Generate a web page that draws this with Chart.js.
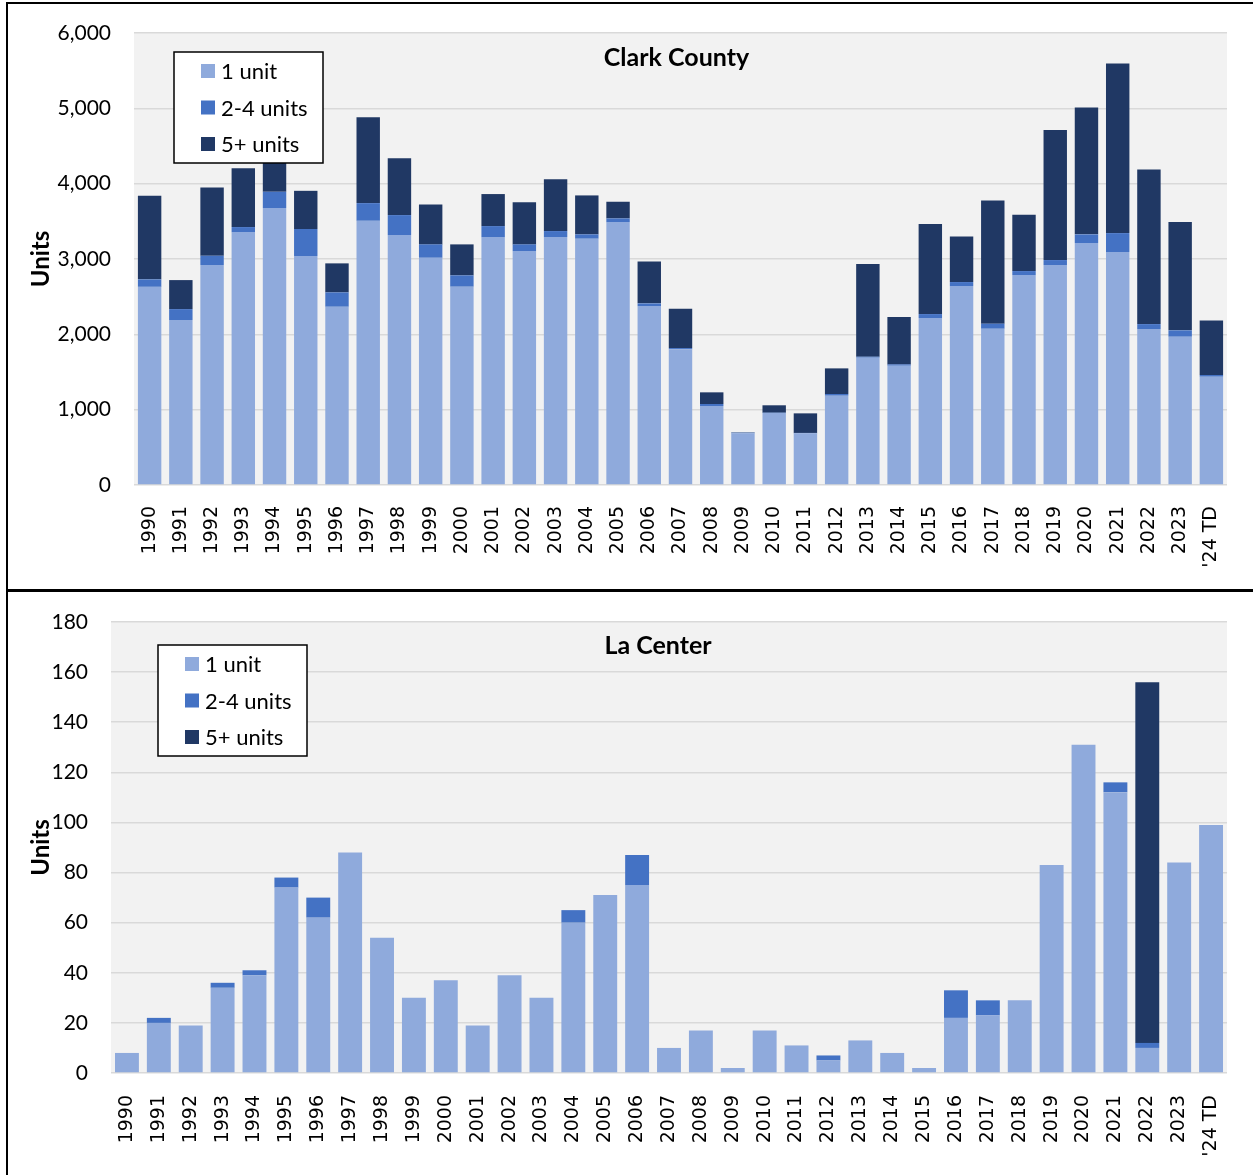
<!DOCTYPE html>
<html>
<head>
<meta charset="utf-8">
<script src="https://cdn.jsdelivr.net/npm/chart.js@4.4.1/dist/chart.umd.min.js"></script>
<style>
  body { margin: 0; background: #fff; }
  #page { position: relative; width: 1253px; height: 1175px; overflow: hidden; }
  canvas { position: absolute; left: 0; }
  .rule { position: absolute; background: #000; z-index: 2; }
</style>
</head>
<body>
<div id="page">
  <canvas id="chartClark" width="1253" height="590" style="top:0"></canvas>
  <canvas id="chartLaCenter" width="1253" height="585" style="top:590px"></canvas>
  <div class="rule" style="left:6px;top:2px;width:1247px;height:2px"></div>
  <div class="rule" style="left:6px;top:2px;width:2px;height:1173px"></div>
  <div class="rule" style="left:6px;top:589px;width:1247px;height:3px"></div>
</div>
<script>
// années
const years = ['1990','1991','1992','1993','1994','1995','1996','1997','1998','1999',
  '2000','2001','2002','2003','2004','2005','2006','2007','2008','2009',
  '2010','2011','2012','2013','2014','2015','2016','2017','2018','2019',
  '2020','2021','2022','2023',"'24 TD"];

// Clark County
const clarkOne  = [2630,2190,2920,3357,3676,3040,2366,3507,3318,3016,2632,3291,3105,3291,3269,3490,2375,1800,1048,686,955,686,1185,1690,1583,2216,2641,2074,2787,2920,3211,3092,2070,1968,1437];
const clarkTwoFour = [100,145,123,67,216,358,191,235,265,178,151,146,89,80,58,49,36,18,27,8,5,5,23,13,18,53,53,67,53,66,116,252,66,85,23];
const clarkFivePlus = [1110,385,907,779,560,507,385,1141,756,531,411,425,558,686,517,221,557,522,155,5,98,260,340,1230,628,1194,606,1637,747,1725,1685,2252,2053,1437,725];

// La Center
const lcOne  = [8,20,19,34,39,74,62,88,54,30,37,19,39,30,60,71,75,10,17,2,17,11,5,13,8,2,22,23,29,83,131,112,10,84,99];
const lcTwoFour = [0,2,0,2,2,4,8,0,0,0,0,0,0,0,5,0,12,0,0,0,0,0,2,0,0,0,11,6,0,0,0,4,2,0,0];
const lcFivePlus = [0,0,0,0,0,0,0,0,0,0,0,0,0,0,0,0,0,0,0,0,0,0,0,0,0,0,0,0,0,0,0,0,144,0,0];

const seriesNames = ['1 unit', '2-4 units', '5+ units'];
const seriesColors = ['#8faadc', '#4472c4', '#203864'];

Chart.defaults.font.family = 'Lato, "Open Sans", sans-serif';
Chart.defaults.color = '#000';
Chart.defaults.animation = false;

// fond gris de la zone de tracé
const plotBg = {
  id: 'plotBg',
  beforeDraw(chart) {
    const { ctx, chartArea: a } = chart;
    ctx.save();
    ctx.fillStyle = '#f2f2f2';
    ctx.fillRect(a.left, a.top, a.right - a.left, a.bottom - a.top);
    ctx.restore();
  }
};

// titre et légende dessinés dans la zone de tracé
const insideBox = {
  id: 'insideBox',
  afterDatasetsDraw(chart, args, o) {
    const { ctx, chartArea: a } = chart;
    ctx.save();
    ctx.fillStyle = '#000';
    ctx.font = 'bold 25px Lato';
    ctx.textAlign = 'center';
    ctx.textBaseline = 'middle';
    ctx.fillText(o.title, (a.left + a.right) / 2 + o.titleDx, a.top + o.titleDy);

    const x0 = a.left + o.legendDx, y0 = a.top + o.legendDy;
    ctx.fillStyle = '#fff';
    ctx.fillRect(x0, y0, 149, 111);
    ctx.strokeStyle = '#000';
    ctx.lineWidth = 1.5;
    ctx.strokeRect(x0, y0, 149, 111);
    ctx.font = '22px Lato';
    ctx.textAlign = 'left';
    chart.data.datasets.forEach(function (ds, i) {
      const cy = y0 + 19 + i * 36.5;
      ctx.fillStyle = ds.backgroundColor;
      ctx.fillRect(x0 + 27, cy - 7, 14, 14);
      ctx.fillStyle = '#000';
      ctx.fillText(ds.label, x0 + 47, cy + 1);
    });
    ctx.restore();
  }
};

function makeChart(id, data1, data24, data5, yMax, yStep, geo) {
  const ctx = document.getElementById(id);
  return new Chart(ctx, {
    type: 'bar',
    data: {
      labels: years,
      datasets: [data1, data24, data5].map(function (d, i) {
        return {
          label: seriesNames[i],
          data: d,
          backgroundColor: seriesColors[i],
          categoryPercentage: 1,
          barPercentage: 0.75
        };
      })
    },
    options: {
      responsive: false,
      layout: { padding: { top: 0, right: 26, bottom: 0, left: 0 } },
      plugins: {
        legend: { display: false },
        tooltip: { enabled: false },
        insideBox: geo.box
      },
      scales: {
        x: {
          stacked: true,
          grid: { display: false },
          border: { display: false },
          ticks: {
            autoSkip: false, minRotation: 90, maxRotation: 90, padding: geo.xPad,
            font: { family: '"DejaVu Sans"', size: 19 }
          },
          afterFit: function (s) { s.height = geo.xHeight; }
        },
        y: {
          stacked: true,
          min: 0, max: yMax,
          grid: { color: '#d9d9d9', lineWidth: 1.5, drawTicks: false },
          border: { display: false },
          ticks: { stepSize: yStep, padding: 23, font: { size: 21 } },
          title: { display: true, text: 'Units', font: { size: 24, weight: 'bold' }, padding: { top: 27, bottom: 0 } },
          afterFit: function (s) {
            s.width = geo.yWidth;
            s.paddingTop = geo.top;
            s.paddingBottom = 0;
          }
        }
      }
    },
    plugins: [plotBg, insideBox]
  });
}

makeChart('chartClark', clarkOne, clarkTwoFour, clarkFivePlus, 6000, 1000, {
  top: 33, xHeight: 105, yWidth: 134, xPad: 13,
  box: { title: 'Clark County', titleDx: -4, titleDy: 25, legendDx: 40, legendDy: 19 }
});

makeChart('chartLaCenter', lcOne, lcTwoFour, lcFivePlus, 180, 20, {
  top: 32, xHeight: 102, yWidth: 111, xPad: 14,
  box: { title: 'La Center', titleDx: -11, titleDy: 24, legendDx: 47, legendDy: 23 }
});
</script>
</body>
</html>
